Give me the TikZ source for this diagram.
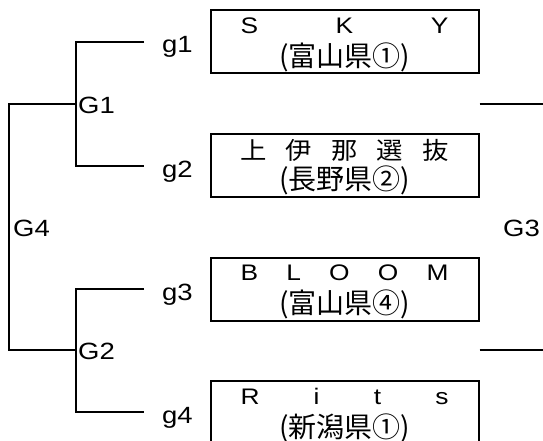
\documentclass[tikz,border=0pt]{standalone}
\usepackage{fontspec}
\newfontfamily\labfont[FakeStretch=1.17]{Liberation Sans}
\newfontfamily\jpfont{Noto Sans CJK JP}
\newfontfamily\jpwide[FakeStretch=1.1]{Noto Sans CJK JP}

\tikzset{
  bracket/.style={line width=2pt},
  teambox/.style={draw,line width=2pt,minimum width=268pt,minimum height=63pt,inner sep=0},
  teamname/.style={anchor=base,inner sep=0,font=\labfont\fontsize{22.5}{22.5}\selectfont},
  teamkanji/.style={anchor=base,inner sep=0,font=\jpwide\fontsize{24}{24}\selectfont},
  teampref/.style={anchor=base,inner sep=0,font=\jpfont\fontsize{28}{28}\selectfont},
  gamelabel/.style={anchor=west,inner ysep=0,text height=19pt,text depth=0pt,font=\labfont\fontsize{23.5}{23.5}\selectfont},
}

\begin{document}
\begin{tikzpicture}[x=1pt,y=-1pt]
    \pgfmathsetmacro{\boxx}{344.5}
    \pgfmathsetmacro{\namewidth}{208}
    \pgfmathsetmacro{\splitx}{76}
    \pgfmathsetmacro{\rootx}{9}
    \pgfmathsetmacro{\stubx}{144}
    \useasboundingbox (0,0) rectangle (543,441);
    \clip (0,0) rectangle (543,441);
    % team boxes
    \node[teambox] (b1) at (\boxx,42) {};
    \node[teambox] (b2) at (\boxx,165) {};
    \node[teambox] (b3) at (\boxx,289) {};
    \node[teambox] (b4) at (\boxx,412.5) {};
    \node[teamname] (n1) at ([yshift=-24pt]b1.north) {\makebox[\namewidth pt][s]{S\hfill K\hfill Y}};
    \node[teampref] (p1) at ([yshift=-57pt]b1.north) {(富山県①)};
    \node[teamkanji] (n2) at ([yshift=-27pt]b2.north) {\makebox[\namewidth pt][s]{上\hfill 伊\hfill 那\hfill 選\hfill 抜}};
    \node[teampref] (p2) at ([yshift=-57pt]b2.north) {(長野県②)};
    \node[teamname] (n3) at ([yshift=-24pt]b3.north) {\makebox[\namewidth pt][s]{B\hfill L\hfill O\hfill O\hfill M}};
    \node[teampref] (p3) at ([yshift=-57pt]b3.north) {(富山県④)};
    \node[teamname] (n4) at ([yshift=-24pt]b4.north) {\makebox[\namewidth pt][s]{R\hfill i\hfill t\hfill s}};
    \node[teampref] (p4) at ([yshift=-57pt]b4.north) {(新潟県①)};
    % game labels
    \node[gamelabel,inner xsep=18pt,text height=22pt] (g1) at (\stubx,42) {g1};
    \node[gamelabel,inner xsep=18pt,text height=22pt] (g2) at (\stubx,166) {g2};
    \node[gamelabel,inner xsep=18pt,text height=22pt] (g3) at (\stubx,289) {g3};
    \node[gamelabel,inner xsep=18pt,text height=22pt] (g4) at (\stubx,412) {g4};
    \node[gamelabel,inner xsep=2pt] (G1) at (\splitx,104) {G1};
    \node[gamelabel,inner xsep=2pt] (G2) at (\splitx,350) {G2};
    \node[gamelabel,inner xsep=4pt,text height=17pt] (G4) at (\rootx,228) {G4};
    \node[gamelabel,anchor=east,inner xsep=3pt,text height=17pt] (G3) at (543,228) {G3};
    \coordinate (r1) at (543,104);
    \coordinate (r2) at (543,350);
    % brackets
    \draw[bracket] (g1.west) -| (G1.west) |- (g2.west);
    \draw[bracket] (g3.west) -| (G2.west) |- (g4.west);
    \draw[bracket] (G1.west) -| (G4.west) |- (G2.west);
    \draw[bracket] (b1.east |- r1) -- (r1);
    \draw[bracket] (b3.east |- r2) -- (r2);
\end{tikzpicture}
\end{document}
